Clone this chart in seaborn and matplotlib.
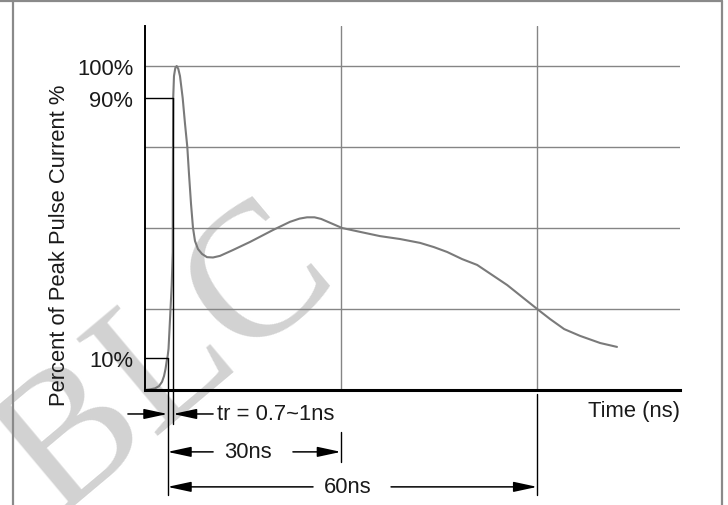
import numpy as np
import pandas as pd
import matplotlib
matplotlib.use("Agg")
import matplotlib.pyplot as plt
import seaborn as sns

# ====================== 数据（读自参考图） ======================
time_ns = [-3.75, -2.92, -2.08, -1.42, -0.92, -0.58, -0.33, -0.13, 0.03, 0.17,
           0.42, 0.70, 0.87, 0.88, 0.92, 0.95, 1.08, 1.30, 1.53, 1.80,
           2.08, 2.53, 2.92, 3.30, 3.58, 3.92, 4.25, 4.58, 5.08, 5.75,
           6.58, 7.58, 8.75, 10.9, 13.75, 17.6, 20.4, 22.0, 23.25, 24.5,
           25.6, 27.6, 29.1, 32.1, 35.4, 38.75, 42.1, 44.4, 46.6, 49.1,
           51.6, 54.1, 56.6, 59.1, 61.6, 63.75, 66.1, 68.75, 72.1, 74.9]
current_pct = [0.0, 0.2, 0.5, 1.2, 2.5, 4.3, 6.5, 9.0, 10.5, 12.7,
               21.9, 32.4, 42.6, 59.0, 77.5, 90.1, 96.9, 99.4, 100.0, 99.1,
               96.9, 90.1, 82.1, 75.0, 66.7, 57.4, 50.0, 46.0, 43.5, 42.0,
               41.0, 40.9, 41.4, 43.2, 45.7, 49.4, 51.9, 52.9, 53.3, 53.3,
               52.8, 51.2, 50.0, 48.8, 47.5, 46.6, 45.4, 44.1, 42.6, 40.4,
               38.6, 35.5, 32.4, 28.7, 25.0, 21.9, 18.8, 16.7, 14.5, 13.3]

grid_time = [28.9, 61.6]          # 30ns / 60ns 处的竖网格
grid_pct = [25, 50, 75, 100]
tick_pct = [10, 90, 100]
tick_labels = ["10%", "90%", "100%"]
t10, t90 = 0.0, 0.92              # 10% / 90% 时刻

X_MIN, X_MAX = -3.75, 85.4
Y_MIN, Y_MAX = 0, 112.35

FS = 15.8
GRAY = "#858585"
TXT = "#1a1a1a"

# ====================== 绘图风格 ======================
sns.set_style("white")
plt.rcParams["font.family"] = ["Liberation Sans", "DejaVu Sans"]

df = pd.DataFrame({"Time (ns)": time_ns, "Current (%)": current_pct})

fig = plt.figure(figsize=(7.28, 5.06), dpi=100)
ax = fig.add_axes([145 / 728, 1 - 391 / 506, (680 - 145) / 728, (391 - 27) / 506])

# 水印（放在最底层）
ax.text(168 / 728, 1 - 362 / 506, "BLC", transform=fig.transFigure,
        fontsize=138, family="Liberation Serif", color="#d2d2d2",
        rotation=40, ha="center", va="center", clip_on=False, zorder=0.2)

# 网格线
for g in grid_pct:
    ax.axhline(g, color=GRAY, lw=1.0, zorder=1)
for g in grid_time:
    ax.axvline(g, color=GRAY, lw=1.0, zorder=1)

# 波形曲线
sns.lineplot(data=df, x="Time (ns)", y="Current (%)", color="#7a7a7a",
             lw=1.5, ax=ax, zorder=3, sort=False)

ax.set_xlim(X_MIN, X_MAX)
ax.set_ylim(Y_MIN, Y_MAX)
ax.set_xlabel("")
ax.set_ylabel("")
ax.set_xticks([])
ax.set_yticks(tick_pct)
ax.set_yticklabels(tick_labels, fontsize=FS, color=TXT)
ax.tick_params(axis="y", length=0, pad=8.5)

for s in ["top", "right"]:
    ax.spines[s].set_visible(False)
ax.spines["left"].set_color("black")
ax.spines["left"].set_linewidth(1.4)
ax.spines["bottom"].set_color("black")
ax.spines["bottom"].set_linewidth(2.2)
ax.spines["bottom"].set_zorder(4)

# 10% / 90% 标记线
line_kw = dict(color="black", lw=1.0, clip_on=False, zorder=4)
ax.plot([X_MIN, t90], [90, 90], **line_kw)
ax.plot([X_MIN, t10], [10, 10], **line_kw)
ax.plot([t90, t90], [90, -10.5], **line_kw)
ax.plot([t10, t10], [10, -32.4], **line_kw)
ax.plot([grid_time[0]] * 2, [-13.0, -22.2], **line_kw)
ax.plot([grid_time[1]] * 2, [-1.2, -32.4], **line_kw)

arrow_kw = dict(arrowstyle="-|>,head_length=1.3,head_width=0.28",
                color="black", lw=1.1, shrinkA=0, shrinkB=0, mutation_scale=11)


def arrow(tail, head, y):
    ax.annotate("", xy=(head, y), xytext=(tail, y), arrowprops=arrow_kw,
                annotation_clip=False, zorder=4)


# tr
arrow(-6.6, t10, -7.4)
arrow(7.6, t90, -7.4)
ax.text(8.2, -7.4, "tr = 0.7~1ns", fontsize=FS, color=TXT, ha="left", va="center",
        clip_on=False)
# 30ns
arrow(7.6, t10, -19.1)
arrow(20.9, grid_time[0], -19.1)
ax.text(13.4, -19.1, "30ns", fontsize=FS, color=TXT, ha="center", va="center",
        clip_on=False)
# 60ns
arrow(24.25, t10, -29.9)
arrow(37.25, grid_time[1], -29.9)
ax.text(30.1, -29.9, "60ns", fontsize=FS, color=TXT, ha="center", va="center",
        clip_on=False)

ax.text(X_MAX, -6.2, "Time (ns)", fontsize=FS, color=TXT, ha="right", va="center",
        clip_on=False)

fig.text(60 / 728, 1 - 245 / 506, "Percent of Peak Pulse Current %", fontsize=FS,
         color=TXT, rotation=90, ha="center", va="center")

# 外框
for (x0, y0, x1, y1) in [(0, 2, 722, 2), (13, 2, 13, 506), (722, 2, 722, 506)]:
    fig.add_artist(plt.Line2D([x0 / 728, x1 / 728], [1 - y0 / 506, 1 - y1 / 506],
                              color="#8a8a8a", lw=1.6, transform=fig.transFigure))

fig.savefig("out.png", dpi=100)
plt.close(fig)
